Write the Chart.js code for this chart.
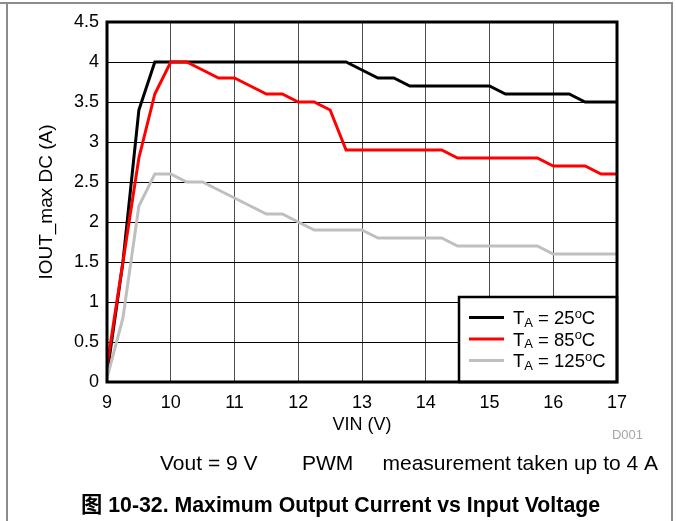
<!DOCTYPE html>
<html>
<head>
<meta charset="utf-8">
<script src="https://cdn.jsdelivr.net/npm/chart.js@4.4.0/dist/chart.umd.min.js"></script>
<style>
  html, body { margin: 0; padding: 0; background: #fff; }
  #wrap { position: relative; width: 676px; height: 521px; }
</style>
</head>
<body>
<div id="wrap"><canvas id="chart" width="676" height="521"></canvas></div>
<script>
// Input voltage sweep (V)
const vin = [9, 9.25, 9.5, 9.75, 10, 10.25, 10.5, 10.75, 11, 11.25, 11.5, 11.75,
             12, 12.25, 12.5, 12.75, 13, 13.25, 13.5, 13.75, 14, 14.25, 14.5, 14.75,
             15, 15.25, 15.5, 15.75, 16, 16.25, 16.5, 16.75, 17];

// Maximum DC output current (A) per ambient temperature
const iout25 = [0.1, 1.5, 3.4, 4.0, 4.0, 4.0, 4.0, 4.0, 4.0, 4.0, 4.0, 4.0,
                4.0, 4.0, 4.0, 4.0, 3.9, 3.8, 3.8, 3.7, 3.7, 3.7, 3.7, 3.7,
                3.7, 3.6, 3.6, 3.6, 3.6, 3.6, 3.5, 3.5, 3.5];
const iout85 = [0.2, 1.5, 2.8, 3.6, 4.0, 4.0, 3.9, 3.8, 3.8, 3.7, 3.6, 3.6,
                3.5, 3.5, 3.4, 2.9, 2.9, 2.9, 2.9, 2.9, 2.9, 2.9, 2.8, 2.8,
                2.8, 2.8, 2.8, 2.8, 2.7, 2.7, 2.7, 2.6, 2.6];
const iout125 = [0.05, 0.8, 2.2, 2.6, 2.6, 2.5, 2.5, 2.4, 2.3, 2.2, 2.1, 2.1,
                 2.0, 1.9, 1.9, 1.9, 1.9, 1.8, 1.8, 1.8, 1.8, 1.8, 1.7, 1.7,
                 1.7, 1.7, 1.7, 1.7, 1.6, 1.6, 1.6, 1.6, 1.6];

// Axis ticks
const xTicks = [9, 10, 11, 12, 13, 14, 15, 16, 17];
const xTickLabels = ['9', '10', '11', '12', '13', '14', '15', '16', '17'];
const yTicks = [0, 0.5, 1, 1.5, 2, 2.5, 3, 3.5, 4, 4.5];
const yTickLabels = ['0', '0.5', '1', '1.5', '2', '2.5', '3', '3.5', '4', '4.5'];

// Legend entries (ambient temperature in °C) and series colours
const seriesNames = ['25', '85', '125'];
const seriesColors = ['#000000', '#ff0000', '#bfbfbf'];

const FONT = '"Liberation Sans", Arial, "Noto Sans CJK SC", sans-serif';

function toPoints(ys) {
  return vin.map((x, i) => ({ x: x, y: ys[i] }));
}

// Plot frame, legend box, page frame and the captions around the chart
const decorations = {
  id: 'decorations',
  afterDatasetsDraw(chart) {
    const ctx = chart.ctx;
    const a = chart.chartArea;
    ctx.save();

    // legend box in the lower right corner of the plot
    const lx = 459, ly = 297;
    ctx.fillStyle = '#fff';
    ctx.fillRect(lx, ly, a.right - lx, a.bottom - ly);
    ctx.strokeStyle = '#000';
    ctx.lineWidth = 2.5;
    ctx.strokeRect(lx, ly, a.right - lx, a.bottom - ly);

    const rows = [317.5, 339, 360.5];
    rows.forEach((ry, i) => {
      ctx.strokeStyle = seriesColors[i];
      ctx.lineWidth = 3;
      ctx.beginPath();
      ctx.moveTo(469, ry);
      ctx.lineTo(504, ry);
      ctx.stroke();

      ctx.fillStyle = '#000';
      ctx.textBaseline = 'alphabetic';
      ctx.textAlign = 'left';
      let x = 513;
      const base = ry + 6.5;
      ctx.font = '18.5px ' + FONT;
      ctx.fillText('T', x, base);
      x += ctx.measureText('T').width;
      ctx.font = '13px ' + FONT;
      ctx.fillText('A', x, base + 2.5);
      x += ctx.measureText('A').width;
      ctx.font = '18.5px ' + FONT;
      const mid = ' = ' + seriesNames[i];
      ctx.fillText(mid, x, base);
      x += ctx.measureText(mid).width;
      ctx.font = '13px ' + FONT;
      ctx.fillText('o', x, base - 6.5);
      x += ctx.measureText('o').width;
      ctx.font = '18.5px ' + FONT;
      ctx.fillText('C', x, base);
    });

    // heavy plot border
    ctx.strokeStyle = '#000';
    ctx.lineWidth = 3;
    ctx.strokeRect(a.left, a.top, a.right - a.left, a.bottom - a.top);
    ctx.restore();
  },
  afterDraw(chart) {
    const ctx = chart.ctx;
    const a = chart.chartArea;
    ctx.save();

    // page frame
    ctx.strokeStyle = '#8c8c8c';
    ctx.lineWidth = 2;
    ctx.beginPath();
    ctx.moveTo(0, 3);
    ctx.lineTo(673, 3);
    ctx.moveTo(7, 3);
    ctx.lineTo(7, 521);
    ctx.moveTo(672, 3);
    ctx.lineTo(672, 521);
    ctx.stroke();

    ctx.fillStyle = '#000';
    ctx.textBaseline = 'alphabetic';

    // y axis title
    ctx.save();
    ctx.translate(52, (a.top + a.bottom) / 2);
    ctx.rotate(-Math.PI / 2);
    ctx.textAlign = 'center';
    ctx.font = '19px ' + FONT;
    ctx.fillText('IOUT_max DC (A)', 0, 0);
    ctx.restore();

    // x axis title
    ctx.textAlign = 'center';
    ctx.font = '18px ' + FONT;
    ctx.fillText('VIN (V)', (a.left + a.right) / 2, 430);

    // figure id
    ctx.fillStyle = '#a6a6a6';
    ctx.textAlign = 'right';
    ctx.font = '13px ' + FONT;
    ctx.fillText('D001', 643, 439);

    // test condition line
    ctx.fillStyle = '#000';
    ctx.font = '21px ' + FONT;
    ctx.textAlign = 'left';
    ctx.fillText('Vout = 9 V', 160, 470);
    ctx.fillText('PWM', 302, 470);
    ctx.textAlign = 'right';
    ctx.fillText('measurement taken up to 4 A', 658, 470);

    // figure caption
    ctx.textAlign = 'left';
    ctx.font = 'bold 21.3px ' + FONT;
    ctx.fillText('图 10-32. Maximum Output Current vs Input Voltage', 81, 512);
    ctx.restore();
  }
};

new Chart(document.getElementById('chart'), {
  type: 'line',
  data: {
    datasets: [
      { label: 'TA = 25°C', data: toPoints(iout25), borderColor: seriesColors[0], order: 2 },
      { label: 'TA = 85°C', data: toPoints(iout85), borderColor: seriesColors[1], order: 1 },
      { label: 'TA = 125°C', data: toPoints(iout125), borderColor: seriesColors[2], order: 0 }
    ]
  },
  options: {
    responsive: false,
    animation: false,
    events: [],
    layout: { padding: { left: 0, right: 59, top: 22, bottom: 0 } },
    elements: {
      line: { borderWidth: 3, tension: 0, fill: false, borderJoinStyle: 'miter', borderCapStyle: 'butt' },
      point: { radius: 0, hoverRadius: 0 }
    },
    plugins: {
      legend: { display: false },
      tooltip: { enabled: false },
      title: { display: false }
    },
    scales: {
      x: {
        type: 'linear',
        min: 9,
        max: 17,
        afterFit(scale) { scale.height = 139; },
        afterBuildTicks(scale) { scale.ticks = xTicks.map(v => ({ value: v })); },
        border: { display: false },
        grid: { color: '#4d4d4d', lineWidth: 1, drawTicks: false },
        ticks: {
          padding: 10,
          color: '#000',
          font: { family: FONT, size: 18 },
          maxRotation: 0,
          autoSkip: false,
          callback: (v, i) => xTickLabels[i]
        }
      },
      y: {
        type: 'linear',
        min: 0,
        max: 4.5,
        afterFit(scale) { scale.width = 107; },
        afterBuildTicks(scale) { scale.ticks = yTicks.map(v => ({ value: v })); },
        border: { display: false },
        grid: { color: '#000', lineWidth: 1, drawTicks: false },
        ticks: {
          padding: 8,
          color: '#000',
          font: { family: FONT, size: 18 },
          autoSkip: false,
          callback: (v, i) => yTickLabels[i]
        }
      }
    }
  },
  plugins: [decorations]
});
</script>
</body>
</html>
